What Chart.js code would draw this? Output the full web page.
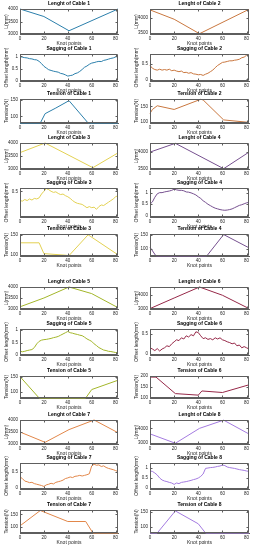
<!DOCTYPE html>
<html>
<head>
<meta charset="utf-8">
<script src="https://cdn.jsdelivr.net/npm/chart.js@4.4.0/dist/chart.umd.min.js"></script>
<style>
  html, body { margin: 0; padding: 0; background: #fff; }
  #fig { position: relative; width: 256px; height: 550px; overflow: hidden; background: #fff; }
  #fig canvas { position: absolute; }
</style>
</head>
<body>
<div id="fig"></div>
<script>
// x axis (knot points)
const xTicks = [0, 20, 40, 60, 80];
const sagX = [0, 2, 4, 6, 8, 10, 12, 14, 16, 18, 20, 22, 24, 26, 28, 30, 32, 34, 36, 38, 40,
  42, 44, 46, 48, 50, 52, 54, 56, 58, 60, 62, 64, 66, 68, 70, 72, 74, 76, 78, 80, 82];

// Length of each cable: [knot, mm] vertices
const length1 = [[0, 4000], [20, 3700], [41, 3130], [82, 4000]];
const length2 = [[0, 4270], [20, 3960], [41, 3480], [82, 4290]];
const length3 = [[0, 3630], [21, 4000], [61, 3050], [82, 3620]];
const length4 = [[0, 4000], [21, 4270], [61, 3490], [82, 4000]];
const length5 = [[0, 3100], [20, 3500], [41, 4000], [60, 3700], [82, 3060]];
const length6 = [[0, 2980], [20, 3750], [41, 4550], [60, 3950], [82, 2980]];
const length7 = [[0, 3500], [21, 3070], [41, 3600], [62, 4000], [82, 3470]];
const length8 = [[0, 3630], [21, 3000], [41, 4000], [61, 4550], [82, 3620]];

// Sagging (offset length) of each cable, one value per sagX
const sag1 = [1.0, .97, .95, .94, .91, .9, .87, .86, .8, .71, .6, .53, .46, .43, .4, .38, .36, .31, .29, .25, .2,
  .22, .24, .3, .33, .39, .47, .56, .61, .68, .73, .75, .78, .8, .79, .84, .86, .89, .92, .94, .98, 1.0];
const sag2 = [.45, .36, .32, .3, .33, .3, .32, .3, .33, .28, .3, .27, .25, .27, .22, .23, .2, .22, .18, .17, .15,
  .16, .13, .17, .2, .25, .3, .38, .45, .5, .55, .56, .58, .6, .6, .62, .63, .65, .7, .72, .78, .8];
const sag3 = [.33, .32, .35, .33, .36, .34, .37, .36, .38, .45, .5, .55, .53, .5, .48, .49, .46, .44, .45, .42, .4,
  .37, .33, .3, .28, .27, .26, .23, .2, .22, .2, .21, .17, .22, .25, .24, .27, .3, .33, .36, .4, .42];
const sag4 = [.5, .6, .8, .95, 1.0, 1.0, 1.03, 1.05, 1.07, 1.1, 1.15, 1.12, 1.1, 1.1, 1.08, 1.03, 1.02, .99, .95, .9, .82,
  .75, .65, .58, .5, .44, .38, .33, .3, .27, .25, .24, .25, .27, .3, .35, .4, .45, .48, .52, .56, .58];
const sag5 = [.15, .13, .15, .18, .2, .22, .3, .45, .55, .6, .62, .63, .65, .67, .7, .72, .75, .8, .85, .9, .95,
  .9, .88, .85, .83, .8, .78, .72, .65, .6, .55, .45, .38, .3, .25, .2, .18, .15, .14, .12, .1, .1];
const sag6 = [.15, .12, .08, .13, .07, .12, .15, .2, .18, .25, .3, .35, .33, .4, .37, .45, .42, .48, .45, .55, .53,
  .45, .38, .4, .36, .38, .35, .4, .37, .4, .35, .33, .3, .28, .25, .27, .2, .22, .15, .18, .15, .12];
const sag7 = [.35, .3, .22, .2, .17, .18, .14, .12, .1, .08, .05, .1, .12, .15, .13, .18, .2, .22, .25, .3, .32,
  .35, .33, .37, .38, .4, .38, .4, .42, .45, .7, .75, .72, .73, .68, .7, .65, .62, .6, .58, .55, .52];
const sag8 = [.85, .83, .75, .65, .5, .4, .35, .32, .28, .25, .18, .25, .22, .28, .3, .32, .35, .38, .42, .45, .5,
  .58, .7, .98, 1.0, 1.02, 1.03, 1.05, 1.08, 1.1, 1.15, 1.12, 1.05, 1.02, 1.0, .98, .95, .92, .9, .88, .85, .83];

// Tension of each cable: [knot, N] vertices
const tension1 = [[0, 80], [17, 80], [21, 108], [30, 125], [41, 147], [57, 80], [82, 80]];
const tension2 = [[0, 127], [2, 140], [6, 152], [20, 140], [42, 173], [44, 171], [61, 106], [82, 98]];
const tension3 = [[0, 130], [16, 130], [20, 103], [38, 99], [41, 98], [57, 150], [82, 100]];
const tension4 = [[0, 105], [5, 74], [47, 74], [61, 150], [82, 103]];
const tension5 = [[0, 150], [16, 79], [55, 79], [60, 107], [82, 138]];
const tension6 = [[0, 195], [5, 195], [21, 120], [40, 113], [43, 132], [60, 125], [82, 160]];
const tension7 = [[0, 105], [17, 165], [40, 122], [55, 122], [61, 77], [82, 77]];
const tension8 = [[0, 80], [6, 80], [21, 152], [40, 110], [46, 80], [82, 80]];

// y tick labels of each panel
const lengthTicks = [[3000, 3500, 4000], [3500, 4000], [3000, 3500, 4000], [3500, 4000],
  [3000, 3500, 4000], [3000, 4000], [3000, 3500, 4000], [3000, 4000]];
const sagTicks = [[0, 0.5, 1], [0, 0.5], [0.5], [0, 0.5, 1], [0, 0.5, 1], [0, 0.5], [0, 0.5], [0, 0.5, 1]];
const tensionTicks = [[100, 150], [100, 150], [100, 150], [100, 150], [100, 150], [100, 150, 200], [100, 150], [100, 150]];

// y limits of each panel
const lengthLim = [[3000, 4000], [3470, 4300], [3000, 4000], [3480, 4280], [3000, 4000], [2950, 4550], [3000, 4000], [2950, 4560]];
const sagLim = [[0, 1.1], [-0.05, 0.82], [0.03, 0.56], [-0.05, 1.2], [0, 1.05], [-0.03, 0.62], [-0.03, 0.79], [-0.05, 1.25]];
const tensionLim = [[80, 152], [96, 174], [97, 152], [74, 152], [79, 152], [100, 200], [77, 167], [80, 155]];

const cableColors = ['#2b7fab', '#c9773f', '#e3d152', '#76508f', '#a3b62a', '#962848', '#e2874a', '#a47be0'];

const lengths = [length1, length2, length3, length4, length5, length6, length7, length8];
const sags = [sag1, sag2, sag3, sag4, sag5, sag6, sag7, sag8];
const tensions = [tension1, tension2, tension3, tension4, tension5, tension6, tension7, tension8];

// layout: plot area top/bottom of each panel row, plot left/right of each column
const rowSpans = [
  [9, 34], [54, 81], [99, 123],
  [143, 169], [188, 217], [234, 256],
  [287, 309], [329, 355], [376, 398],
  [420, 444], [463, 489], [510, 533]
];
const colSpans = [[20, 118], [150, 249]];

const FONT = "'Liberation Sans', Arial, Helvetica, sans-serif";
const TXT = '#262626';
const FRAME = '#5e5e5e';
const TITLE_H = 8;
const XAXIS_H = 13;

// full box round the plot area, plus inward tick marks
const boxPlugin = {
  id: 'axisBox',
  afterDatasetsDraw(chart) {
    const ctx = chart.ctx;
    const a = chart.chartArea;
    const xs = chart.scales.x, ys = chart.scales.y;
    const l = Math.round(a.left) + 0.5, r = Math.round(a.right) - 0.5;
    const t = Math.round(a.top) + 0.5, b = Math.round(a.bottom) - 0.5;
    ctx.save();
    ctx.strokeStyle = FRAME;
    ctx.lineWidth = 1;
    ctx.beginPath();
    ctx.rect(l, t, r - l, b - t);
    xs.ticks.forEach(tk => {
      const px = Math.round(xs.getPixelForValue(tk.value)) + 0.5;
      ctx.moveTo(px, b); ctx.lineTo(px, b - 2);
      ctx.moveTo(px, t); ctx.lineTo(px, t + 2);
    });
    ys.ticks.forEach(tk => {
      const py = Math.round(ys.getPixelForValue(tk.value)) + 0.5;
      ctx.moveTo(l, py); ctx.lineTo(l + 2, py);
      ctx.moveTo(r, py); ctx.lineTo(r - 2, py);
    });
    ctx.stroke();
    ctx.restore();
  }
};

function makePanel(row, col, title, yLabel, points, color, lim, yTicks) {
  const [top, bottom] = rowSpans[row];
  const [left, right] = colSpans[col];
  const canvas = document.createElement('canvas');
  const w = 128;
  const h = TITLE_H + (bottom - top) + XAXIS_H;
  canvas.width = w;
  canvas.height = h;
  canvas.style.left = (col * 128) + 'px';
  canvas.style.top = (top - TITLE_H) + 'px';
  canvas.style.width = w + 'px';
  canvas.style.height = h + 'px';
  document.getElementById('fig').appendChild(canvas);

  const yAxisW = left - col * 128;
  const padRight = 128 - (right - col * 128);

  return new Chart(canvas, {
    type: 'line',
    data: {
      datasets: [{
        data: points,
        borderColor: color,
        borderWidth: 1,
        pointRadius: 0,
        tension: 0,
        fill: false,
        clip: 1
      }]
    },
    options: {
      responsive: false,
      animation: false,
      devicePixelRatio: 1,
      layout: { padding: { left: 0, right: padRight, top: 0, bottom: 0 } },
      plugins: {
        legend: { display: false },
        tooltip: { enabled: false },
        title: {
          display: true,
          fullSize: false, // centre over the plot, as MATLAB does
          text: title,
          color: '#000',
          font: { family: FONT, size: 5, weight: 'bold', lineHeight: 1.2 },
          padding: { top: 0, bottom: 2 }
        }
      },
      scales: {
        x: {
          type: 'linear',
          min: 0,
          max: 82,
          grid: { display: false, drawTicks: false },
          border: { display: true, color: FRAME, width: 1 },
          afterBuildTicks: s => { s.ticks = xTicks.map(v => ({ value: v })); },
          afterFit: s => { s.height = XAXIS_H; },
          ticks: { font: { family: FONT, size: 4.5 }, color: TXT, padding: 2, maxRotation: 0, autoSkip: false,
            callback: v => String(v) },
          title: { display: true, text: 'Knot points', color: TXT, font: { family: FONT, size: 5, lineHeight: 1.2 }, padding: 0 }
        },
        y: {
          min: lim[0],
          max: lim[1],
          grid: { display: false, drawTicks: false },
          border: { display: true, color: FRAME, width: 1 },
          afterBuildTicks: s => { s.ticks = yTicks.map(v => ({ value: v })); },
          afterFit: s => { s.width = yAxisW; },
          ticks: { font: { family: FONT, size: 4.5 }, color: TXT, padding: 2, autoSkip: false,
            callback: v => String(v) },
          title: { display: true, text: yLabel, color: TXT, font: { family: FONT, size: 5, lineHeight: 1.2 },
            padding: { top: col ? 6 : 4, bottom: 0 } }
        }
      }
    },
    plugins: [boxPlugin]
  });
}

for (let c = 0; c < 8; c++) {
  const col = c % 2;
  const base = Math.floor(c / 2) * 3;
  const color = cableColors[c];
  const n = c + 1;
  makePanel(base, col, 'Lenght of Cable ' + n, 'L(mm)',
    lengths[c].map(p => ({ x: p[0], y: p[1] })), color, lengthLim[c], lengthTicks[c]);
  makePanel(base + 1, col, 'Sagging of Cable ' + n, 'Offset length(mm)',
    sags[c].map((v, i) => ({ x: sagX[i], y: v })), color, sagLim[c], sagTicks[c]);
  makePanel(base + 2, col, 'Tension of Cable ' + n, 'Tension(N)',
    tensions[c].map(p => ({ x: p[0], y: p[1] })), color, tensionLim[c], tensionTicks[c]);
}
</script>
</body>
</html>
